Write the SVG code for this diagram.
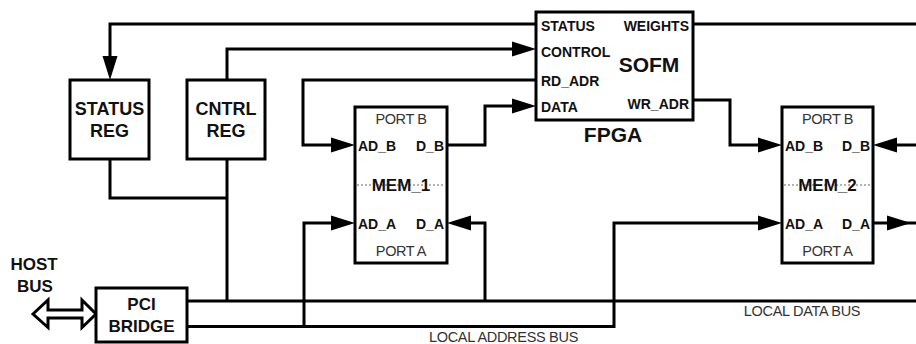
<svg xmlns="http://www.w3.org/2000/svg" width="916" height="344" viewBox="0 0 916 344">
<style>
.box{fill:#fff;stroke:#000;stroke-width:3}
.w{fill:none;stroke:#000;stroke-width:3;stroke-linejoin:miter}
.arr{marker-end:url(#ah)}
.b{font-family:"Liberation Sans",Arial,sans-serif;font-weight:bold;fill:#111}
.r{font-family:"Liberation Sans",Arial,sans-serif;fill:#333}
.m{text-anchor:middle}
.e{text-anchor:end}
.dash{stroke:#666;stroke-width:1;stroke-dasharray:2,2}
.port{font-size:14.5px;letter-spacing:-0.4px}
</style>
<defs>
<marker id="ah" markerUnits="userSpaceOnUse" markerWidth="26" markerHeight="18" viewBox="0 -9 26 18" refX="0" refY="0" orient="auto">
<path d="M0,-7.5 L24,0 L0,7.5 Z" fill="#000"/>
</marker>
</defs>
<rect width="916" height="344" fill="#fff"/>
<g id="connectors">
<path class="w arr" d="M536,24 H110 V56"/>
<path class="w" d="M693,24 H916"/>
<path class="w arr" d="M227,80 V49 H512"/>
<path class="w arr" d="M536,80 H303 V145 H331"/>
<path class="w arr" d="M447,145 H485 V106 H512"/>
<path class="w arr" d="M693,100 H730 V145 H758"/>
<path class="w arr" d="M916,145 H897"/>
<path class="w arr" d="M873,223 H887"/>
<path class="w" d="M905,223 H916"/>
<path class="w" d="M110,159 V198 H227"/>
<path class="w" d="M227,159 V301"/>
<path class="w" d="M187,301 H916"/>
<path class="w arr" d="M187,326.5 H614 V223 H758"/>
<path class="w arr" d="M304,326.5 V223 H331"/>
<path class="w arr" d="M485,301 V223 H471"/>
<path d="M33,314 L48,300 L48,310 L82,310 L82,300 L96,314 L82,327.5 L82,318 L48,318 L48,327.5 Z" fill="#fff" stroke="#000" stroke-width="3" stroke-linejoin="miter"/>
</g>
<g id="status_reg">
<rect class="box" x="70" y="80" width="79" height="79"/>
<text class="b m" x="109.5" y="115" font-size="18">STATUS</text>
<text class="b m" x="109.5" y="137" font-size="18">REG</text>
</g>
<g id="cntrl_reg">
<rect class="box" x="187" y="80" width="78" height="79"/>
<text class="b m" x="226" y="115" font-size="18">CNTRL</text>
<text class="b m" x="226" y="137" font-size="18">REG</text>
</g>
<g id="fpga">
<rect class="box" x="536" y="12" width="157" height="108"/>
<text class="b" x="541" y="31" font-size="14">STATUS</text>
<text class="b" x="541" y="56.5" font-size="14">CONTROL</text>
<text class="b" x="541" y="86" font-size="14">RD_ADR</text>
<text class="b" x="541" y="112" font-size="14">DATA</text>
<text class="b e" x="689" y="31" font-size="14">WEIGHTS</text>
<text class="b e" x="689" y="109" font-size="14">WR_ADR</text>
<text class="b m" x="649" y="72" font-size="21">SOFM</text>
<text class="b m" x="613" y="142" font-size="21">FPGA</text>
</g>
<g id="mem_1">
<rect class="box" x="355" y="107" width="92" height="156"/>
<line class="dash" x1="357" y1="185" x2="445" y2="185"/>
<text class="r m port" x="401" y="124">PORT B</text>
<text class="b" x="358" y="151" font-size="14">AD_B</text>
<text class="b e" x="444" y="151" font-size="14">D_B</text>
<text class="b m" x="401" y="190.5" font-size="17">MEM_1</text>
<text class="b" x="358" y="229" font-size="14">AD_A</text>
<text class="b e" x="444" y="229" font-size="14">D_A</text>
<text class="r m port" x="401" y="256">PORT A</text>
</g>
<g id="mem_2">
<rect class="box" x="782" y="107" width="91" height="156"/>
<line class="dash" x1="784" y1="185" x2="871" y2="185"/>
<text class="r m port" x="827.5" y="124">PORT B</text>
<text class="b" x="785" y="151" font-size="14">AD_B</text>
<text class="b e" x="870" y="151" font-size="14">D_B</text>
<text class="b m" x="827.5" y="190.5" font-size="17">MEM_2</text>
<text class="b" x="785" y="229" font-size="14">AD_A</text>
<text class="b e" x="870" y="229" font-size="14">D_A</text>
<text class="r m port" x="827.5" y="256">PORT A</text>
</g>
<g id="pci_bridge">
<rect class="box" x="96" y="288" width="91" height="54"/>
<text class="b m" x="141.5" y="310" font-size="17">PCI</text>
<text class="b m" x="141.5" y="332" font-size="17">BRIDGE</text>
</g>
<g id="host_bus">
<text class="b m" x="34" y="270" font-size="17">HOST</text>
<text class="b m" x="35" y="292" font-size="17">BUS</text>
</g>
<g id="labels">
<text class="r m" x="503.5" y="342" font-size="14.5" letter-spacing="-0.3">LOCAL ADDRESS BUS</text>
<text class="r m" x="802" y="316" font-size="14.5" letter-spacing="-0.3">LOCAL DATA BUS</text>
</g>
</svg>
